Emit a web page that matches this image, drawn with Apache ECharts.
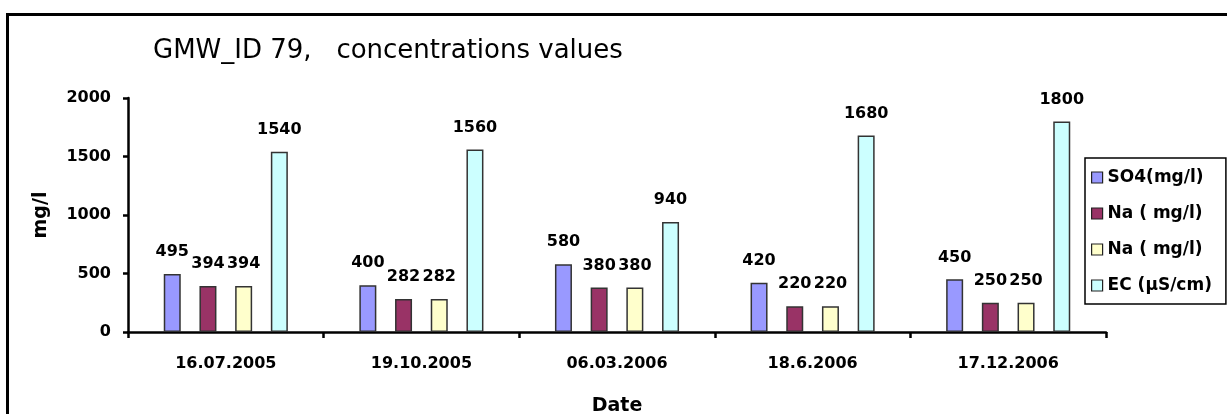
<!DOCTYPE html>
<html><head><meta charset="utf-8">
<script src="https://cdn.jsdelivr.net/npm/echarts@6/dist/echarts.min.js"></script>
<style>html,body{margin:0;padding:0;background:#fff;}#c{width:1227px;height:414px;}</style>
</head><body><div id="c"></div>
<script>
const categories = ['16.07.2005','19.10.2005','06.03.2006','18.6.2006','17.12.2006'];
const seriesNames = ['SO4(mg/l)','Na ( mg/l)','Na ( mg/l)','EC (µS/cm)'];
const so4 = [495, 400, 580, 420, 450];
const na1 = [394, 282, 380, 220, 250];
const na2 = [394, 282, 380, 220, 250];
const ec = [1540, 1560, 940, 1680, 1800];
const yTicks = [0, 500, 1000, 1500, 2000];

const colors = ['#9999FF','#993366','#FFFFCC','#CCFFFF'];
const font = '"DejaVu Sans", "Liberation Sans", Arial, sans-serif';
const values = [so4, na1, na2, ec];

const chart = echarts.init(document.getElementById('c'));
chart.setOption({
  animation: false,
  textStyle: {fontFamily: font},
  title: {text: 'GMW_ID 79,   concentrations values', left: 148, top: 33,
    textStyle: {fontFamily: font, fontSize: 26, fontWeight: 'normal', color: '#000'}},
  graphic: [{type: 'rect', shape: {x: 7.5, y: 14.5, width: 1400, height: 600},
    style: {fill: 'none', stroke: '#000', lineWidth: 3}, silent: true}],
  legend: {orient: 'vertical', left: 1085, top: 158, padding: [11, 14, 10, 6],
    borderColor: '#000', borderWidth: 1.5, itemWidth: 11, itemHeight: 11, itemGap: 19,
    icon: 'rect',
    textStyle: {fontFamily: font, fontSize: 17, fontWeight: 'bold', color: '#000'},
    data: seriesNames.map((n, i) => ({name: n + (i === 2 ? ' ' : ''), itemStyle: {color: colors[i], borderColor: '#222', borderWidth: 1.2}}))
  },
  grid: {left: 128, right: 121, top: 98, bottom: 82, containLabel: false, outerBoundsMode: 'none'},
  xAxis: {type: 'category', data: categories,
    name: 'Date', nameLocation: 'middle', nameGap: 65,
    nameTextStyle: {fontFamily: font, fontSize: 19, fontWeight: 'bold', color: '#000'},
    axisLine: {lineStyle: {color: '#000', width: 2.5}},
    axisTick: {show: true, length: 6, lineStyle: {color: '#000', width: 2.5}},
    axisLabel: {fontFamily: font, fontSize: 16, fontWeight: 'bold', color: '#000', margin: 24}
  },
  yAxis: {type: 'value', min: 0, max: 2000, interval: 500,
    name: 'mg/l', nameLocation: 'middle', nameGap: 77, nameRotate: 90,
    nameTextStyle: {fontFamily: font, fontSize: 19, fontWeight: 'bold', color: '#000'},
    splitLine: {show: false},
    axisLine: {show: true, lineStyle: {color: '#000', width: 2.5}},
    axisTick: {show: true, length: 5, lineStyle: {color: '#000', width: 2.5}},
    axisLabel: {fontFamily: font, fontSize: 16, fontWeight: 'bold', color: '#000', margin: 17,
      formatter: v => yTicks.includes(v) ? String(v) : ''}
  },
  series: values.map((vals, i) => ({
    type: 'bar', name: seriesNames[i] + (i === 2 ? ' ' : ''), data: vals,
    barWidth: 17, barGap: '110%',
    itemStyle: {color: colors[i], borderColor: '#333', borderWidth: 1.5},
    label: {show: true, position: 'top', distance: 14, fontFamily: font, fontSize: 16,
      fontWeight: 'bold', color: '#000'}
  }))
});
</script></body></html>
